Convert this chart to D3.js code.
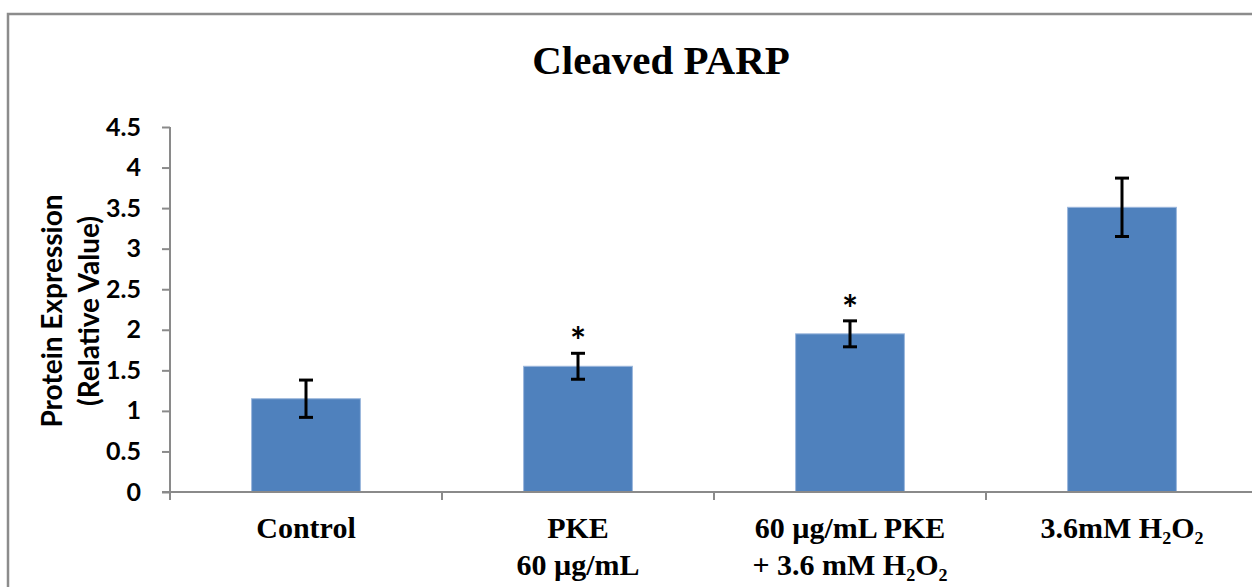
<!DOCTYPE html>
<html>
<head>
<meta charset="utf-8">
<script src="https://cdn.jsdelivr.net/npm/d3@7"></script>
<style>
  body { margin: 0; background: #fff; }
</style>
</head>
<body>
<div id="chart"></div>
<script>
/* chart data */
var groups = ["Control", "PKE", "PKE+H2O2", "H2O2"];
var labelLines = [
  ["Control"],
  ["PKE", "60 µg/mL"],
  ["60 µg/mL PKE", "+ 3.6 mM H₂O₂"],
  ["3.6mM H₂O₂"]
];
var means = [1.15, 1.55, 1.95, 3.51];
var errors = [0.23, 0.16, 0.16, 0.36];
var signif = [false, true, true, false];
var yTicks = [0, 0.5, 1, 1.5, 2, 2.5, 3, 3.5, 4, 4.5];

var W = 1252, H = 587;
var margin = { top: 127, left: 170, bottom: 95 };
var plotRight = 1258;

var svg = d3.select("#chart").append("svg")
  .attr("width", W)
  .attr("height", H);

/* outer frame */
svg.append("rect")
  .attr("x", 8).attr("y", 14)
  .attr("width", W + 10).attr("height", H + 10)
  .style("fill", "none")
  .style("stroke", "#8c8c8c")
  .style("stroke-width", 2.5);

/* scales */
var x = d3.scaleBand()
  .domain(groups)
  .range([margin.left, plotRight])
  .paddingInner(0.6)
  .paddingOuter(0.3);
var y = d3.scaleLinear().domain([0, 4.5]).range([H - margin.bottom, margin.top]);

/* title */
svg.append("text")
  .attr("x", 661).attr("y", 74)
  .style("font-family", "'Liberation Serif', 'Times New Roman', serif")
  .style("font-weight", "bold")
  .style("font-size", "41px")
  .style("text-anchor", "middle")
  .text("Cleaved PARP");

/* bars */
svg.selectAll(".bar")
  .data(groups)
  .enter()
  .append("rect")
  .attr("class", "bar")
  .attr("x", function (g) { return x(g); })
  .attr("y", function (g, i) { return y(means[i]); })
  .attr("width", x.bandwidth())
  .attr("height", function (g, i) { return y(0) - y(means[i]); })
  .style("fill", "#4f81bd")
  .style("stroke", "#9bb7dc")
  .style("stroke-width", 1);

/* error bars */
var eb = svg.selectAll(".err")
  .data(groups)
  .enter()
  .append("g")
  .attr("class", "err")
  .attr("transform", function (g) { return "translate(" + (x(g) + x.bandwidth() / 2) + ",0)"; })
  .style("stroke", "#000")
  .style("stroke-width", 3);
eb.append("line")
  .attr("x1", 0).attr("x2", 0)
  .attr("y1", function (g, i) { return y(means[i] + errors[i]); })
  .attr("y2", function (g, i) { return y(means[i] - errors[i]); });
eb.append("line")
  .attr("x1", -7).attr("x2", 7)
  .attr("y1", function (g, i) { return y(means[i] + errors[i]); })
  .attr("y2", function (g, i) { return y(means[i] + errors[i]); });
eb.append("line")
  .attr("x1", -7).attr("x2", 7)
  .attr("y1", function (g, i) { return y(means[i] - errors[i]); })
  .attr("y2", function (g, i) { return y(means[i] - errors[i]); });

/* significance stars */
svg.selectAll(".star")
  .data(groups.filter(function (g, i) { return signif[i]; }))
  .enter()
  .append("text")
  .attr("class", "star")
  .attr("x", function (g) { return x(g) + x.bandwidth() / 2; })
  .attr("y", function (g) {
    var i = groups.indexOf(g);
    return y(means[i] + errors[i]) + 2;
  })
  .style("font-family", "Lato, 'Open Sans', sans-serif")
  .style("font-weight", "bold")
  .style("font-size", "38px")
  .style("text-anchor", "middle")
  .text("*");

/* y axis */
var yAxis = svg.append("g")
  .attr("transform", "translate(" + margin.left + ",0)")
  .call(d3.axisLeft(y).tickValues(yTicks).tickSize(8).tickPadding(21)
    .tickFormat(function (d) { return String(d); }));
yAxis.select(".domain").attr("d", "M0," + y(4.5) + "V" + (y(0) + 8));
yAxis.selectAll("line, path").style("stroke", "#8a8a8a").style("stroke-width", 2);
yAxis.selectAll("text")
  .style("font-family", "Lato, 'Open Sans', sans-serif")
  .style("font-weight", "bold")
  .style("font-size", "25px")
  .style("fill", "#000");

/* x axis */
var xAxis = svg.append("g")
  .attr("transform", "translate(0," + y(0) + ")");
xAxis.append("line")
  .attr("x1", margin.left - 8).attr("x2", W + 10)
  .attr("y1", 0).attr("y2", 0)
  .style("stroke", "#8a8a8a").style("stroke-width", 2);
xAxis.selectAll(".xtick")
  .data(groups.slice(1))
  .enter()
  .append("line")
  .attr("class", "xtick")
  .attr("x1", function (g) { return x(g) - x.step() * x.paddingInner() / 2; })
  .attr("x2", function (g) { return x(g) - x.step() * x.paddingInner() / 2; })
  .attr("y1", 0).attr("y2", 8)
  .style("stroke", "#8a8a8a").style("stroke-width", 2);

/* category labels */
var cat = svg.selectAll(".cat")
  .data(groups)
  .enter()
  .append("text")
  .attr("class", "cat")
  .attr("x", function (g) { return x(g) + x.bandwidth() / 2; })
  .attr("y", 538)
  .style("font-family", "'Liberation Serif', 'Times New Roman', serif")
  .style("font-weight", "bold")
  .style("font-size", "30px")
  .style("text-anchor", "middle");
cat.selectAll("tspan")
  .data(function (g, i) { return labelLines[i]; })
  .enter()
  .append("tspan")
  .attr("x", function () { return d3.select(this.parentNode).attr("x"); })
  .attr("dy", function (d, j) { return j === 0 ? 0 : 37; })
  .text(function (d) { return d; });

/* y axis title */
var yt = svg.append("text")
  .attr("transform", "translate(62,311) rotate(-90)")
  .style("font-family", "Lato, 'Open Sans', sans-serif")
  .style("font-weight", "bold")
  .style("font-size", "28px")
  .style("text-anchor", "middle");
yt.append("tspan").attr("x", 0).attr("dy", 0).text("Protein Expression");
yt.append("tspan").attr("x", 0).attr("dy", 37).text("(Relative Value)");
</script>
</body>
</html>
